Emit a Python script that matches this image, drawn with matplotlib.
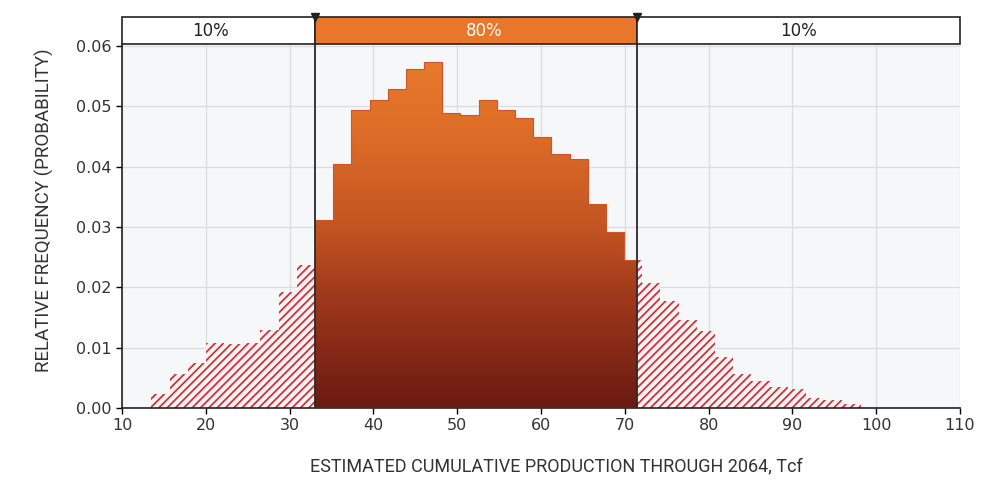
import numpy as np
import matplotlib
matplotlib.use("Agg")
import matplotlib.pyplot as plt
from matplotlib.colors import LinearSegmentedColormap
from matplotlib.path import Path
from matplotlib.patches import PathPatch, Rectangle

# histogram data (relative frequency per bin)
bin_start = 13.5
bin_width = 2.17
freq = [0.0023, 0.0056, 0.0075, 0.0107, 0.0106, 0.0108, 0.0129, 0.0193, 0.0237,
        0.0312, 0.0404, 0.0494, 0.0511, 0.0528, 0.0561, 0.0573, 0.0489, 0.0486,
        0.0511, 0.0494, 0.0480, 0.0449, 0.0421, 0.0413, 0.0338, 0.0291, 0.0245,
        0.0207, 0.0177, 0.0146, 0.0127, 0.0085, 0.0056, 0.0044, 0.0035, 0.0031,
        0.0017, 0.0013, 0.0006]
p10 = 33.03
p90 = 71.5
band_labels = ["10%", "80%", "10%"]

x_ticks = list(range(10, 111, 10))
y_ticks = [0.00, 0.01, 0.02, 0.03, 0.04, 0.05, 0.06]

hatch_col = "#C9353B"
orange = "#E8772B"
grad = LinearSegmentedColormap.from_list(
    "g", [(0, "#6A1A12"), (0.3, "#9E381B"), (0.5, "#C45522"),
          (0.75, "#DC6C27"), (1.0, "#EA7D2C")])

plt.rcParams["hatch.linewidth"] = 1.3
plt.rcParams["font.family"] = ["DejaVu Sans"]

fig = plt.figure(figsize=(9.83, 4.8), dpi=100)
ax = fig.add_axes([0.1241, 0.15, 0.8525, 0.7583])
band = fig.add_axes([0.1241, 0.9083, 0.8525, 0.0563])

ax.set_facecolor("#F6F7F8")
ax.grid(True, color="#DCDCDC", lw=0.9)
ax.set_axisbelow(True)

# split each bin into tail / central pieces
edges = bin_start + bin_width * np.arange(len(freq) + 1)
tail_x, tail_w, tail_h = [], [], []
mid_x, mid_w, mid_h = [], [], []
for i, h in enumerate(freq):
    a, b = edges[i], edges[i + 1]
    pieces = [(a, min(b, p10), False), (max(a, p10), min(b, p90), True),
              (max(a, p90), b, False)]
    for lo, hi, central in pieces:
        if hi - lo <= 1e-9:
            continue
        if central:
            mid_x.append(lo); mid_w.append(hi - lo); mid_h.append(h)
        else:
            tail_x.append(lo); tail_w.append(hi - lo); tail_h.append(h)

ax.bar(tail_x, tail_h, width=tail_w, align="edge", facecolor="#FBF3F3",
       edgecolor=hatch_col, hatch="////", lw=0, zorder=2)

# central bars filled with a vertical gradient clipped to the bar shapes
rects = [Path([(x, 0), (x + w, 0), (x + w, h), (x, h), (x, 0)], closed=True)
         for x, w, h in zip(mid_x, mid_w, mid_h)]
clip = PathPatch(Path.make_compound_path(*rects), transform=ax.transData,
                 facecolor="none", edgecolor="none")
ax.add_patch(clip)
g = np.linspace(0, 1, 256).reshape(-1, 1)
img = ax.imshow(g, cmap=grad, origin="lower", aspect="auto",
                extent=[p10, p90, 0, 0.0603], zorder=3)
img.set_clip_path(clip)
ax.step(np.r_[mid_x, mid_x[-1] + mid_w[-1]], np.r_[mid_h, mid_h[-1]],
        where="post", color="#D0532A", lw=0.8, zorder=4)

for p in (p10, p90):
    ax.axvline(p, color="#2A2A2A", lw=1.3, zorder=5)

ax.set_xlim(10, 110)
ax.set_ylim(0, 0.0603)
ax.set_xticks(x_ticks)
ax.set_yticks(y_ticks)
ax.set_yticklabels([f"{v:.2f}" for v in y_ticks])
ax.tick_params(labelsize=11.5, labelcolor="#333333", length=4, width=1,
               direction="out")
for s in ("top", "right"):
    ax.spines[s].set_visible(False)
for s in ("left", "bottom"):
    ax.spines[s].set_linewidth(1.2)
    ax.spines[s].set_color("#222222")

lab_font = ["Liberation Sans Narrow", "Roboto"]
ax.set_xlabel("ESTIMATED CUMULATIVE PRODUCTION THROUGH 2064, Tcf",
              family=lab_font, fontsize=13, color="#333333")
ax.set_ylabel("RELATIVE FREQUENCY (PROBABILITY)", family=lab_font,
              fontsize=13.5, color="#333333")
ax.xaxis.set_label_coords(0.518, -0.135)
ax.yaxis.set_label_coords(-0.081, 0.544)

# percentile band on top
band.set_xlim(10, 110)
band.set_ylim(0, 1)
band.axis("off")
segs = [(10, p10, "white", "#222222", -1), (p10, p90, orange, "white", 1),
        (p90, 110, "white", "#222222", 0)]
for (lo, hi, fc, tc, dx), txt in zip(segs, band_labels):
    band.add_patch(Rectangle((lo, 0), hi - lo, 1, facecolor=fc,
                             edgecolor="#222222", lw=1.2, clip_on=False))
    band.text((lo + hi) / 2 + dx, 0.5, txt, ha="center", va="center",
              fontsize=12, color=tc)
band.plot([p10, p90], [1, 1], "v", color="#222222", ms=6, clip_on=False,
          zorder=6)

fig.savefig("out.png", dpi=100)
